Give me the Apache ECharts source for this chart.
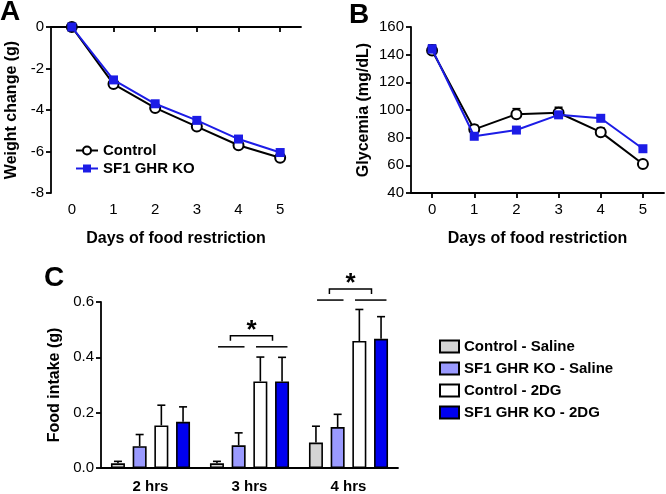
<!DOCTYPE html>
<html>
<head>
<meta charset="utf-8">
<script src="https://cdn.jsdelivr.net/npm/echarts@6/dist/echarts.min.js"></script>
<style>
html, body { margin: 0; padding: 0; background: #fff; }
#main { width: 666px; height: 494px; }
</style>
</head>
<body>
<div id="main"></div>
<script>
// panel A / B - days of food restriction
var days = ['0', '1', '2', '3', '4', '5'];
var weightControl = [0, -2.75, -3.9, -4.8, -5.7, -6.3];
var weightKO = [0, -2.55, -3.7, -4.5, -5.4, -6.05];
var glyControl = [143, 86, 97, 98, 84, 61];
var glyControlErr = [4, 3, 4, 4, 3, 1];
var glyKO = [144, 81, 85.5, 96.5, 94, 72];
var glyKOErr = [3, 1, 1, 1, 1, 1];

// panel C - food intake after injection
var hours = ['2 hrs', '3 hrs', '4 hrs'];
var groupNames = ['Control - Saline', 'SF1 GHR KO - Saline', 'Control - 2DG', 'SF1 GHR KO - 2DG'];
var intakeCtrlSaline = [0.017, 0.017, 0.092];
var intakeKOSaline = [0.079, 0.082, 0.148];
var intakeCtrl2DG = [0.154, 0.313, 0.459];
var intakeKO2DG = [0.167, 0.313, 0.467];
var errCtrlSaline = [0.007, 0.007, 0.059];
var errKOSaline = [0.042, 0.045, 0.046];
var errCtrl2DG = [0.073, 0.088, 0.114];
var errKO2DG = [0.054, 0.087, 0.080];
var sigHours = [1, 2];
var sigLevels = [0.438, 0.607];

var FONT = 'Liberation Sans';
var BLUE = '#1c1ce6';
var barColors = ['#d4d4d4', '#9a9aff', '#ffffff', '#0000f0'];
var barW = 14, barGapRatio = 0.55;
var barStep = barW * (1 + barGapRatio);

var chart = echarts.init(document.getElementById('main'));

// axis helpers
function xCat(gridIndex, data, name, boldLabels) {
    return {
        type: 'category', gridIndex: gridIndex, data: data,
        boundaryGap: true,
        name: name, nameLocation: 'middle', nameGap: 38,
        nameTextStyle: {color: '#000', fontSize: 16, fontWeight: 'bold', fontFamily: FONT},
        axisLine: {lineStyle: {color: '#000', width: 1.8}},
        axisTick: {show: name ? true : false, alignWithLabel: true, length: 5, lineStyle: {color: '#000', width: 1.8}},
        axisLabel: {color: '#000', fontSize: 15, fontFamily: FONT, margin: boldLabels ? 11 : 9,
            fontWeight: boldLabels ? 'bold' : 'normal'}
    };
}
function yVal(gridIndex, min, max, interval, name, gap, fmt) {
    return {
        type: 'value', gridIndex: gridIndex, min: min, max: max, interval: interval,
        name: name, nameLocation: 'middle', nameGap: gap,
        nameTextStyle: {color: '#000', fontSize: 16, fontWeight: 'bold', fontFamily: FONT},
        splitLine: {show: false},
        axisLine: {show: true, lineStyle: {color: '#000', width: 1.8}},
        axisTick: {show: true, length: 5, lineStyle: {color: '#000', width: 1.8}},
        axisLabel: {color: '#000', fontSize: 15, fontFamily: FONT, margin: 7, formatter: fmt}
    };
}

function lineErrData(vals, errs) {
    var out = [];
    for (var i = 0; i < vals.length; i++) out.push([i, vals[i], errs[i]]);
    return out;
}

function renderLineErr(params, api) {
    var p = api.coord([api.value(0), api.value(1)]);
    var t = api.coord([api.value(0), api.value(1) + api.value(2)]);
    var style = {stroke: api.visual('color'), lineWidth: 1.5};
    return {
        type: 'group',
        children: [
            {type: 'line', shape: {x1: p[0], y1: p[1], x2: t[0], y2: t[1]}, style: style},
            {type: 'line', shape: {x1: t[0] - 4, y1: t[1], x2: t[0] + 4, y2: t[1]}, style: style}
        ]
    };
}

var barSets = [intakeCtrlSaline, intakeKOSaline, intakeCtrl2DG, intakeKO2DG];
var errSets = [errCtrlSaline, errKOSaline, errCtrl2DG, errKO2DG];
var barErrData = [];
for (var k = 0; k < barSets.length; k++) {
    for (var c = 0; c < hours.length; c++) {
        barErrData.push([c, k, barSets[k][c], errSets[k][c]]);
    }
}

function renderBarErr(params, api) {
    var k = api.value(1);
    var b = api.coord([api.value(0), api.value(2)]);
    var t = api.coord([api.value(0), api.value(2) + api.value(3)]);
    var x = b[0] + (k - 1.5) * barStep;
    var style = {stroke: '#000', lineWidth: 1.6};
    return {
        type: 'group',
        children: [
            {type: 'line', shape: {x1: x, y1: b[1], x2: x, y2: t[1]}, style: style},
            {type: 'line', shape: {x1: x - 4, y1: t[1], x2: x + 4, y2: t[1]}, style: style}
        ]
    };
}

var sigData = [];
for (var s = 0; s < sigHours.length; s++) sigData.push([sigHours[s], sigLevels[s]]);

function renderSig(params, api) {
    var lvl = api.value(1);
    var c = api.coord([api.value(0), lvl]);
    var hi = api.coord([api.value(0), lvl + 0.04])[1];
    var drop = api.coord([api.value(0), lvl + 0.022])[1];
    var x = c[0], y = c[1];
    var style = {stroke: '#000', lineWidth: 1.5, fill: null};
    return {
        type: 'group',
        children: [
            {type: 'line', shape: {x1: x - 1.45 * barStep, y1: y, x2: x - 0.23 * barStep, y2: y}, style: style},
            {type: 'line', shape: {x1: x + 0.3 * barStep, y1: y, x2: x + 1.75 * barStep, y2: y}, style: style},
            {type: 'polyline', shape: {points: [
                [x - 0.88 * barStep, drop], [x - 0.88 * barStep, hi],
                [x + 1.06 * barStep, hi], [x + 1.06 * barStep, drop]]}, style: style},
            {type: 'text', x: x + 0.09 * barStep, y: hi - 5,
                style: {text: '*', fill: '#000', font: 'bold 26px ' + FONT, align: 'center', verticalAlign: 'middle'}}
        ]
    };
}

var barSeries = groupNames.map(function (nm, i) {
    return {
        name: nm, type: 'bar', xAxisIndex: 2, yAxisIndex: 2,
        data: barSets[i], barWidth: barW, barGap: (barGapRatio * 100) + '%',
        itemStyle: {color: barColors[i], borderColor: '#000', borderWidth: 1.6},
        z: 3
    };
});

var option = {
    backgroundColor: '#fff',
    animation: false,
    textStyle: {fontFamily: FONT},
    grid: [
        {left: 51, top: 27, width: 250, height: 166},
        {left: 411, top: 27, width: 253, height: 166},
        {left: 101, top: 302, width: 297, height: 167}
    ],
    xAxis: [
        xCat(0, days, 'Days of food restriction'),
        xCat(1, days, 'Days of food restriction'),
        xCat(2, hours, '', true)
    ],
    yAxis: [
        yVal(0, -8, 0, 2, 'Weight change (g)', 31),
        yVal(1, 40, 160, 20, 'Glycemia (mg/dL)', 39),
        yVal(2, 0, 0.6, 0.2, 'Food intake (g)', 38, function (v) { return v.toFixed(1); })
    ],
    legend: [
        {
            data: ['Control', 'SF1 GHR KO'], orient: 'vertical', left: 70, top: 138,
            itemWidth: 22, itemHeight: 10, itemGap: 3,
            textStyle: {color: '#000', fontSize: 15, fontWeight: 'bold', fontFamily: FONT}
        },
        {
            data: groupNames, orient: 'vertical', left: 434, top: 334, icon: 'rect',
            itemWidth: 19, itemHeight: 12, itemGap: 7,
            textStyle: {color: '#000', fontSize: 15, fontWeight: 'bold', fontFamily: FONT}
        }
    ],
    graphic: [
        {type: 'text', left: 0, top: -2, style: {text: 'A', font: 'bold 28px ' + FONT, fill: '#000'}},
        {type: 'text', left: 349, top: 1, style: {text: 'B', font: 'bold 28px ' + FONT, fill: '#000'}},
        {type: 'text', left: 44, top: 264, style: {text: 'C', font: 'bold 28px ' + FONT, fill: '#000'}}
    ],
    series: [
        {
            name: 'Control', type: 'line', xAxisIndex: 0, yAxisIndex: 0, data: weightControl,
            symbol: 'circle', symbolSize: 10,
            itemStyle: {color: '#fff', borderColor: '#000', borderWidth: 2},
            lineStyle: {color: '#000', width: 2}, z: 3
        },
        {
            name: 'SF1 GHR KO', type: 'line', xAxisIndex: 0, yAxisIndex: 0, data: weightKO,
            symbol: 'rect', symbolSize: 9,
            itemStyle: {color: BLUE}, lineStyle: {color: BLUE, width: 2}, z: 4
        },
        {
            name: 'errControlB', type: 'custom', xAxisIndex: 1, yAxisIndex: 1,
            data: lineErrData(glyControl, glyControlErr), renderItem: renderLineErr,
            itemStyle: {color: '#000'}, z: 2
        },
        {
            name: 'errKOB', type: 'custom', xAxisIndex: 1, yAxisIndex: 1,
            data: lineErrData(glyKO, glyKOErr), renderItem: renderLineErr,
            itemStyle: {color: BLUE}, z: 2
        },
        {
            name: 'Control', type: 'line', xAxisIndex: 1, yAxisIndex: 1, data: glyControl,
            symbol: 'circle', symbolSize: 10,
            itemStyle: {color: '#fff', borderColor: '#000', borderWidth: 2},
            lineStyle: {color: '#000', width: 2}, z: 3
        },
        {
            name: 'SF1 GHR KO', type: 'line', xAxisIndex: 1, yAxisIndex: 1, data: glyKO,
            symbol: 'rect', symbolSize: 9,
            itemStyle: {color: BLUE}, lineStyle: {color: BLUE, width: 2}, z: 4
        },
        {
            name: 'errBars', type: 'custom', xAxisIndex: 2, yAxisIndex: 2,
            data: barErrData, renderItem: renderBarErr, z: 2
        }
    ].concat(barSeries).concat([
        {
            name: 'sig', type: 'custom', xAxisIndex: 2, yAxisIndex: 2,
            data: sigData, renderItem: renderSig, clip: false, z: 5
        }
    ])
};

chart.setOption(option);
</script>
</body>
</html>
